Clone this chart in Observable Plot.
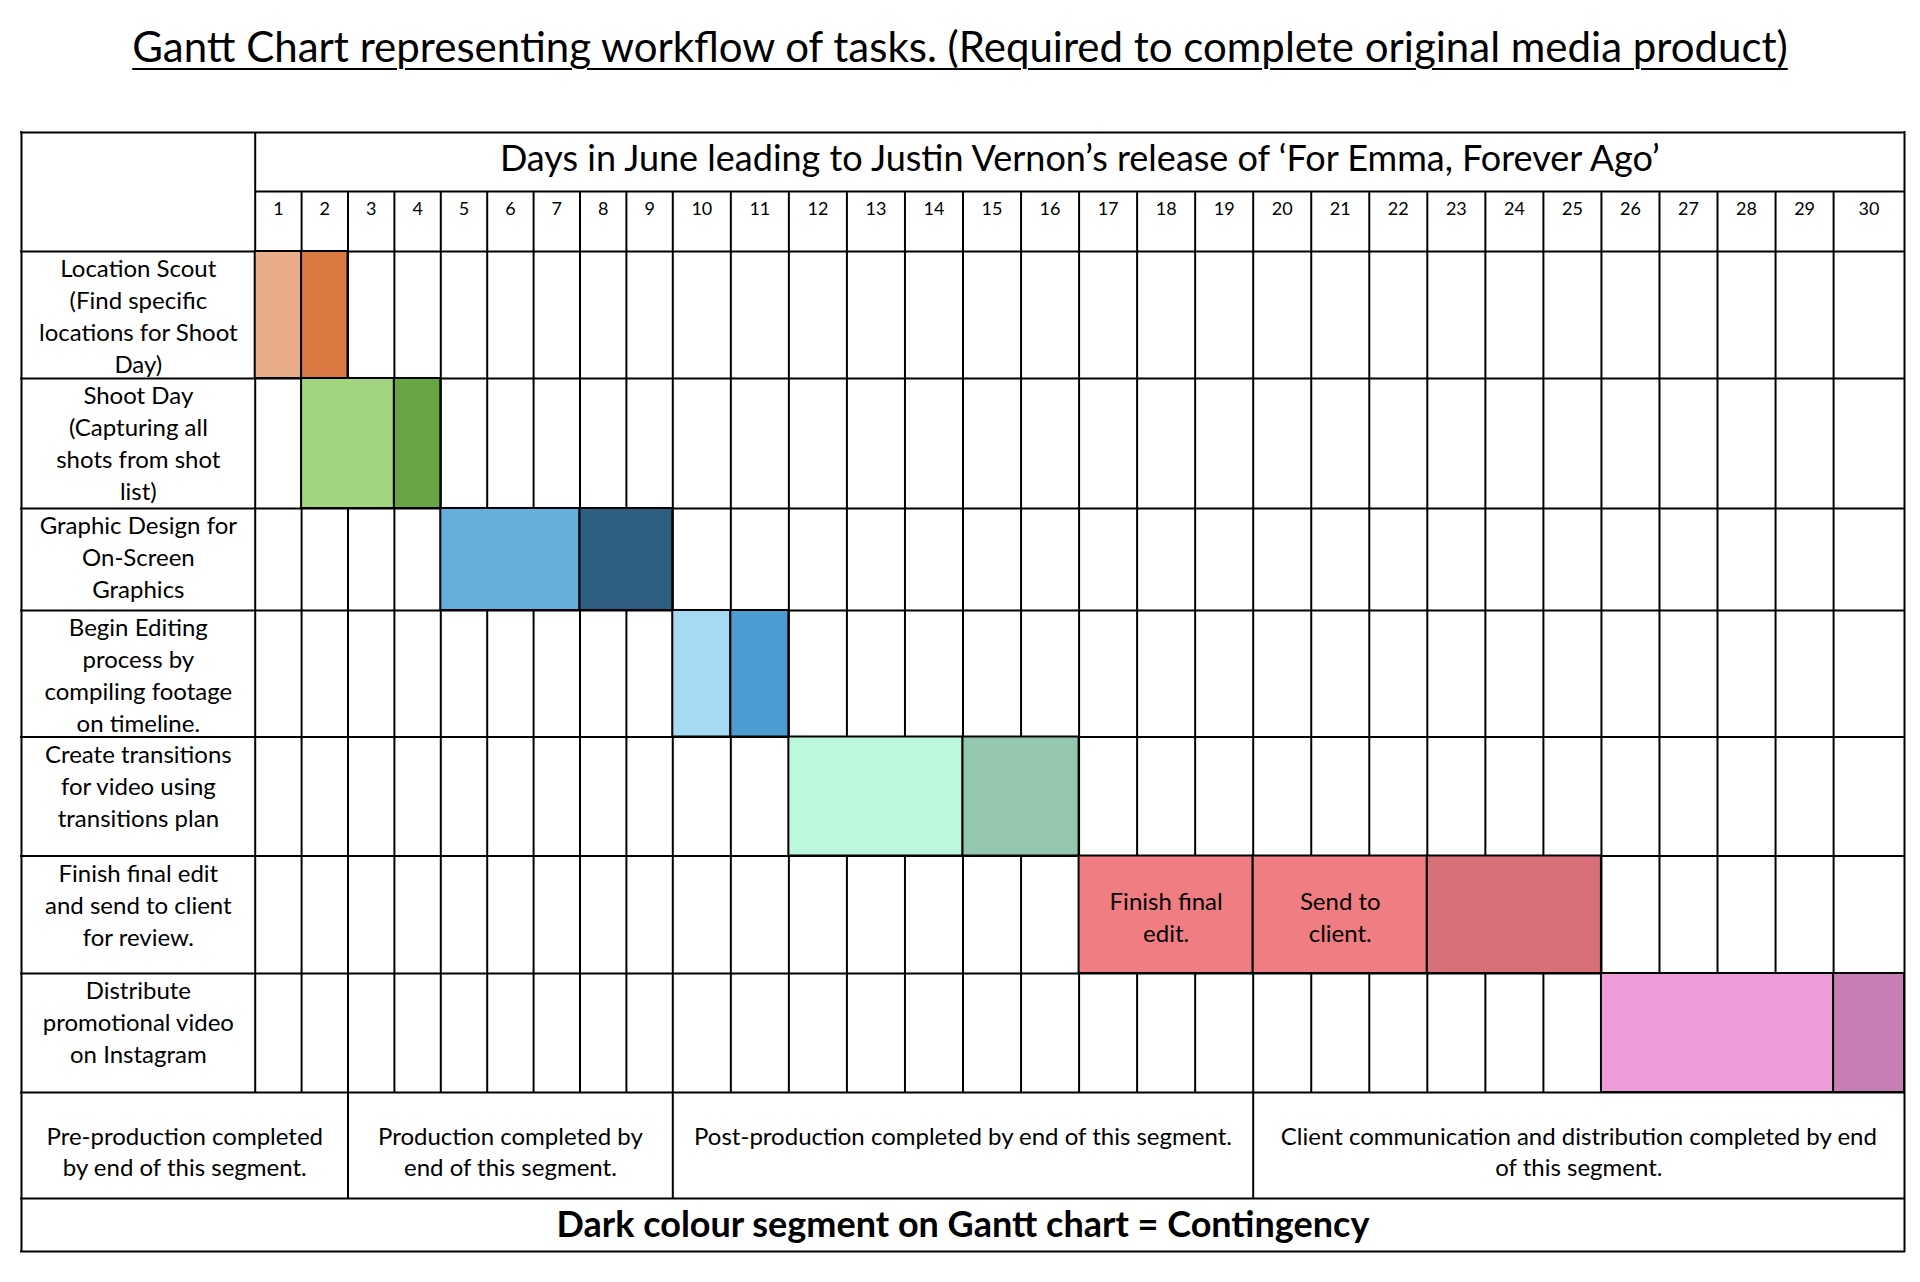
<!DOCTYPE html>
<html>
<head>
<meta charset="utf-8">
<script src="https://cdn.jsdelivr.net/npm/d3@7"></script>
<script src="https://cdn.jsdelivr.net/npm/@observablehq/plot@0.6"></script>
<style>
  html, body { margin: 0; padding: 0; background: #fff; }
  body { width: 1920px; height: 1282px; overflow: hidden; font-family: Lato, "Open Sans", sans-serif; color: #000; }
  #title { height: 110px; box-sizing: border-box; padding-top: 22px; text-align: center; font-size: 42px; line-height: 48px;
           text-decoration: underline; text-decoration-thickness: 2px; text-underline-offset: 6px; white-space: nowrap; }
  #chart svg { display: block; }
</style>
</head>
<body>
<div id="title"></div>
<div id="chart"></div>
<script>
// ---------- data ----------
const titleText = "Gantt Chart representing workflow of tasks. (Required to complete original media product)";
const headerText = "Days in June leading to Justin Vernon\u2019s release of \u2018For Emma, Forever Ago\u2019";
const days = [1,2,3,4,5,6,7,8,9,10,11,12,13,14,15,16,17,18,19,20,21,22,23,24,25,26,27,28,29,30];
const tasks = [
  "Location Scout\n(Find specific\nlocations for Shoot\nDay)",
  "Shoot Day\n(Capturing all\nshots from shot\nlist)",
  "Graphic Design for\nOn-Screen\nGraphics",
  "Begin Editing\nprocess by\ncompiling footage\non timeline.",
  "Create transitions\nfor video using\ntransitions plan",
  "Finish final edit\nand send to client\nfor review.",
  "Distribute\npromotional video\non Instagram"
];
const segTask  = [0, 0, 1, 1, 2, 2, 3,  3,  4,  4,  5,  5,  5,  6,  6];
const segStart = [1, 2, 2, 4, 5, 8, 10, 11, 12, 15, 17, 20, 23, 26, 30];
const segEnd   = [1, 2, 3, 4, 7, 9, 10, 11, 14, 16, 19, 22, 25, 29, 30];
const segLabel = ["", "", "", "", "", "", "", "", "", "", "Finish final\nedit.", "Send to\nclient.", "", "", ""];
const segColor = ["#E8AD88", "#DA7A42", "#A1D67E", "#66A542", "#63AEDB", "#2E5F80", "#A6D9F2", "#4A9CD1",
                  "#BBF8DC", "#93C8AE", "#F07D82", "#F07D82", "#D77078", "#EE9CD8", "#C67EB4"];
const phaseLabels = [
  "Pre-production completed\nby end of this segment.",
  "Production completed by\nend of this segment.",
  "Post-production completed by end of this segment.",
  "Client communication and distribution completed by end\nof this segment."
];
const phaseEnd = [2, 9, 19, 30];
const legendText = "Dark colour segment on Gantt chart = Contingency";

// ---------- layout ----------
document.getElementById("title").textContent = titleText;
const TOP = 110;
const W = 1920, H = 1282 - TOP;
const LEFT = -1;           // table left edge in day units (label column spans LEFT..0.5)
const RIGHT = days[days.length - 1] + 0.5;
const xOpts = {type: "linear", domain: [LEFT, 0.5, 9.5, 29.5, RIGHT], range: [21, 254.7, 672.3, 1833.1, 1904]};
// rows: -2..-1 header, -1..0 day numbers, 0..7 tasks, 7..8 phases, 8..9 legend
const yOpts = {type: "linear", domain: [-2, -1, 0, 1, 2, 3, 4, 5, 6, 7, 8, 9],
               range: [132, 191, 251, 378, 508, 610, 736.5, 855.5, 973, 1092, 1198, 1251].map(v => v - TOP)};
const xs = Plot.scale({x: xOpts});
const mid = (a, b) => xs.invert((xs.apply(a) + xs.apply(b)) / 2);

const nTasks = tasks.length;
const dayBounds = days.slice(0, -1).map(d => d + 0.5);
const phaseBounds = phaseEnd.slice(0, -1).map(d => d + 0.5);
const hLinesFull = d3.range(0, nTasks + 3); // 0..9
const SW = 2;

const plot = Plot.plot({
  width: W, height: H,
  margin: 0,
  x: {...xOpts, axis: null},
  y: {...yOpts, axis: null},
  color: {type: "identity"},
  style: {fontFamily: "Lato, 'Open Sans', sans-serif", color: "#000", background: "#fff", overflow: "visible"},
  marks: [
    // grid: horizontal lines
    Plot.ruleY(hLinesFull, {y: d => d, x1: LEFT, x2: RIGHT, stroke: "#000", strokeWidth: SW, strokeLinecap: "square"}),
    Plot.ruleY([-2], {y: d => d, x1: LEFT, x2: RIGHT, stroke: "#000", strokeWidth: SW, strokeLinecap: "square"}),
    Plot.ruleY([-1], {y: d => d, x1: 0.5, x2: RIGHT, stroke: "#000", strokeWidth: SW}),
    // grid: vertical lines
    Plot.ruleX([LEFT, RIGHT], {x: d => d, y1: -2, y2: nTasks + 2, stroke: "#000", strokeWidth: SW, strokeLinecap: "square"}),
    Plot.ruleX([0.5], {x: d => d, y1: -2, y2: nTasks, stroke: "#000", strokeWidth: SW}),
    Plot.ruleX(dayBounds, {x: d => d, y1: -1, y2: nTasks, stroke: "#000", strokeWidth: SW}),
    Plot.ruleX(phaseBounds, {x: d => d, y1: nTasks, y2: nTasks + 1, stroke: "#000", strokeWidth: SW}),
    // gantt segments
    Plot.rect(segTask, {
      x1: (d, i) => segStart[i] - 0.5, x2: (d, i) => segEnd[i] + 0.5,
      y1: d => d, y2: d => d + 1,
      fill: (d, i) => segColor[i], stroke: "#000", strokeWidth: SW
    }),
    Plot.text(segTask, {
      filter: (d, i) => segLabel[i] !== "",
      x: (d, i) => mid(segStart[i] - 0.5, segEnd[i] + 0.5), y: d => d + 0.5,
      text: (d, i) => segLabel[i], fontSize: 24, lineHeight: 1.35, lineAnchor: "middle", dy: 1, fill: "#000"
    }),
    // header
    Plot.text([headerText], {x: mid(0.5, RIGHT), y: -1.5, text: d => d, fontSize: 36, lineAnchor: "middle", dy: -3, fill: "#000"}),
    Plot.text(days, {x: d => d, y: -1, text: d => String(d), fontSize: 18, lineAnchor: "top", dy: 11, fill: "#000"}),
    // task labels
    Plot.text(tasks, {x: mid(LEFT, 0.5), y: (d, i) => i, text: d => d, fontSize: 24, lineHeight: 1.33,
                      lineAnchor: "top", dy: 3, fill: "#000"}),
    // phases
    Plot.text(phaseLabels, {
      x: (d, i) => mid(i === 0 ? LEFT : phaseEnd[i - 1] + 0.5, phaseEnd[i] + 0.5), y: nTasks,
      text: d => d, fontSize: 24, lineHeight: 1.3, lineAnchor: "top", dy: 30, fill: "#000"
    }),
    // legend
    Plot.text([legendText], {x: mid(LEFT, RIGHT), y: nTasks + 1.5, text: d => d, fontSize: 36, fontWeight: "bold",
                             lineAnchor: "middle", fill: "#000"})
  ]
});
document.getElementById("chart").appendChild(plot);
</script>
</body>
</html>
